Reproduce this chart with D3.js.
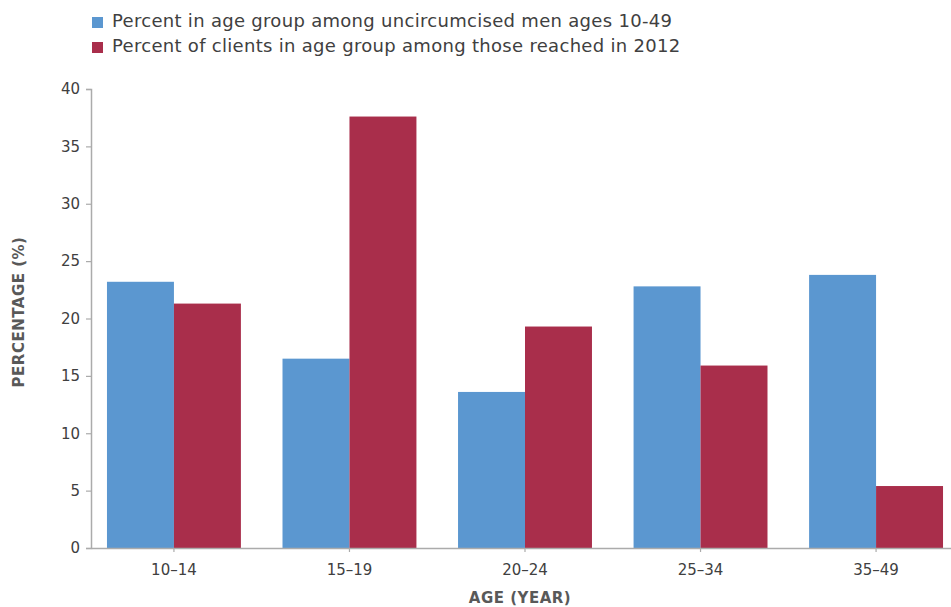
<!DOCTYPE html>
<html>
<head>
<meta charset="utf-8">
<script src="https://cdn.jsdelivr.net/npm/d3@7"></script>
<style>
  body { margin: 0; background: #fff; }
  text { font-family: "DejaVu Sans", sans-serif; }
</style>
</head>
<body>
<div id="chart"></div>
<script>
const width = 951;
const height = 607;
const margin = { left: 91, right: 0, top: 89, bottom: 59 };

const categories = ["10–14", "15–19", "20–24", "25–34", "35–49"];
const series_names = [
  "Percent in age group among uncircumcised men ages 10-49",
  "Percent of clients in age group among those reached in 2012"
];
const uncircumcised = [23.2, 16.5, 13.6, 22.8, 23.8];
const clients = [21.3, 37.6, 19.3, 15.9, 5.4];
const y_ticks = [0, 5, 10, 15, 20, 25, 30, 35, 40];
const colors = ["#5B97D0", "#A92E4B"];

const rows = categories.map((c, i) => ({ cat: c, values: [uncircumcised[i], clients[i]] }));

const svg = d3.select('#chart')
  .append('svg')
    .attr('width', width)
    .attr('height', height);

const plot_h = height - margin.top - margin.bottom;

const x_scale = d3.scaleBand()
  .domain(categories)
  .range([margin.left, 959])
  .paddingInner(0.237)
  .paddingOuter(0.091);
const x_inner = d3.scaleBand()
  .domain([0, 1])
  .range([0, x_scale.bandwidth()]);
const y_scale = d3.scaleLinear()
  .domain([0, 40])
  .range([margin.top + plot_h, margin.top]);

// bars
svg.selectAll('.group')
    .data(rows)
  .join('g')
    .attr('class', 'group')
    .attr('transform', d => `translate(${x_scale(d.cat)},0)`)
  .selectAll('rect')
    .data(d => d.values)
  .join('rect')
    .attr('x', (d, i) => x_inner(i))
    .attr('width', x_inner.bandwidth())
    .attr('y', d => y_scale(d))
    .attr('height', d => y_scale(0) - y_scale(d))
    .attr('fill', (d, i) => colors[i]);

// y axis
const y_axis = svg.append('g')
  .attr('transform', `translate(${margin.left},0)`)
  .call(d3.axisLeft(y_scale).tickValues(y_ticks).tickSize(5).tickPadding(6));
y_axis.select('.domain').attr('stroke', '#ababab').attr('stroke-width', 1.5);
y_axis.selectAll('.tick line').attr('stroke', '#ababab').attr('stroke-width', 1.2);
y_axis.selectAll('.tick text')
  .attr('fill', '#404040')
  .style('font-size', '15px');

// x axis
const x_axis = svg.append('g')
  .attr('transform', `translate(0,${y_scale(0)})`)
  .call(d3.axisBottom(x_scale).tickSize(4).tickSizeOuter(0).tickPadding(12));
x_axis.select('.domain').attr('stroke', '#ababab').attr('stroke-width', 1.5);
x_axis.selectAll('.tick line').attr('stroke', '#ababab').attr('stroke-width', 1.2);
x_axis.selectAll('.tick text')
  .attr('fill', '#404040')
  .style('font-size', '15px');

// axis titles
svg.append('text')
  .attr('transform', `translate(24,312) rotate(-90)`)
  .attr('text-anchor', 'middle')
  .attr('fill', '#595959')
  .style('font-size', '15px')
  .style('font-weight', 'bold')
  .style('letter-spacing', '0.5px')
  .text('PERCENTAGE (%)');

svg.append('text')
  .attr('x', 520)
  .attr('y', 603)
  .attr('text-anchor', 'middle')
  .attr('fill', '#595959')
  .style('font-size', '15px')
  .style('font-weight', 'bold')
  .style('letter-spacing', '0.5px')
  .text('AGE (YEAR)');

// legend
const legend = svg.append('g')
  .selectAll('g')
    .data(series_names)
  .join('g')
    .attr('transform', (d, i) => `translate(92,${17 + i * 25})`);
legend.append('rect')
  .attr('width', 11)
  .attr('height', 11)
  .attr('fill', (d, i) => colors[i]);
legend.append('text')
  .attr('x', 20)
  .attr('y', 10)
  .attr('fill', '#404040')
  .style('font-size', '18px')
  .style('letter-spacing', '0.3px')
  .text(d => d);
</script>
</body>
</html>
